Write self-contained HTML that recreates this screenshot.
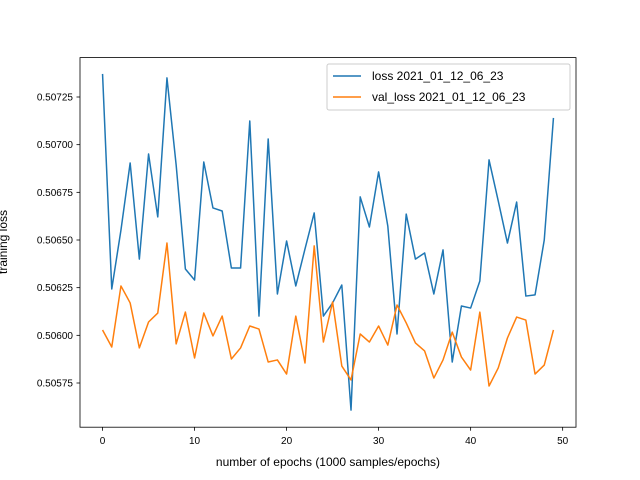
<!DOCTYPE html>
<html><head><meta charset="utf-8"><style>body{margin:0;background:#fff}svg{display:block;font-family:"Liberation Sans","DejaVu Sans",sans-serif}</style></head>
<body>
<svg id="c" width="640" height="480"></svg>
<script>
const epochs=[...Array(50).keys()];
const lossValues=[0.507371,0.506243,0.506552,0.506904,0.506400,0.506951,0.506621,0.507350,0.506893,0.506348,0.506290,0.506909,0.506668,0.506652,0.506353,0.506353,0.507124,0.506101,0.507030,0.506217,0.506495,0.506259,0.506453,0.506642,0.506101,0.506170,0.506264,0.505608,0.506726,0.506568,0.506857,0.506573,0.506007,0.506636,0.506400,0.506432,0.506217,0.506448,0.505860,0.506154,0.506143,0.506285,0.506920,0.506705,0.506484,0.506699,0.506206,0.506212,0.506500,0.507140];
const valLossValues=[0.506028,0.505939,0.506259,0.506170,0.505934,0.506070,0.506117,0.506484,0.505955,0.506122,0.505881,0.506117,0.505997,0.506101,0.505876,0.505934,0.506049,0.506033,0.505860,0.505871,0.505797,0.506101,0.505855,0.506469,0.505965,0.506175,0.505839,0.505766,0.506007,0.505965,0.506049,0.505949,0.506159,0.506065,0.505960,0.505918,0.505776,0.505871,0.506017,0.505886,0.505818,0.506122,0.505734,0.505829,0.505986,0.506096,0.506080,0.505797,0.505844,0.506028];
const xTicks=[0,10,20,30,40,50];
const yTicks=[0.50575,0.50600,0.50625,0.50650,0.50675,0.50700,0.50725];
const NS='http://www.w3.org/2000/svg',svg=document.getElementById('c');
const L=80,R=576,T=57.6,B=427.2;
const xMin=-2.45,xMax=51.45;
const X=v=>L+(v-xMin)/(xMax-xMin)*(R-L);
const Y=v=>383-(v-0.50575)/0.0015*286;
function el(t,a,txt){const e=document.createElementNS(NS,t);for(const k in a)e.setAttribute(k,a[k]);if(txt!=null)e.textContent=txt;svg.appendChild(e);return e;}
let e;
function series(vals,color,name){const d=vals.map((v,i)=>(i?'L':'M')+X(epochs[i]).toFixed(2)+','+Y(v).toFixed(2)).join('');
e=el('path',{d:d,fill:'none',stroke:color,'stroke-width':1.5,'stroke-linejoin':'round'});

}
series(lossValues,'#1f77b4','loss-line');
series(valLossValues,'#ff7f0e','val-loss-line');
e=el('rect',{x:L,y:T,width:R-L,height:B-T,fill:'none',stroke:'#000','stroke-width':0.8});


xTicks.forEach(t=>{const x=X(t);
e=el('line',{x1:x,x2:x,y1:B,y2:B+3.5,stroke:'#000','stroke-width':0.8});


e=el('text',{x:x,y:B+17,'font-size':10,'text-anchor':'middle'},String(t));

});
yTicks.forEach(t=>{const y=Y(t);
e=el('line',{x1:L-3.5,x2:L,y1:y,y2:y,stroke:'#000','stroke-width':0.8});


e=el('text',{x:L-7,y:y+3.5,'font-size':10,'text-anchor':'end'},t.toFixed(5));

});
e=el('text',{x:(L+R)/2,y:466,'font-size':12,'text-anchor':'middle'},'number of epochs (1000 samples/epochs)');


e=el('text',{x:0,y:0,'font-size':12,'text-anchor':'middle',transform:'translate(7,242) rotate(-90)'},'training loss');


e=el('rect',{x:327,y:64,width:243,height:46,rx:2,fill:'#fff','fill-opacity':0.8,stroke:'#ccc','stroke-width':1});


[['#1f77b4','loss 2021_01_12_06_23',76],['#ff7f0e','val_loss 2021_01_12_06_23',97]].forEach(([c,t,y])=>{
e=el('line',{x1:333,x2:361,y1:y,y2:y,stroke:c,'stroke-width':1.5});


e=el('text',{x:372,y:y+4,'font-size':12},t);

});
</script>
</body></html>
